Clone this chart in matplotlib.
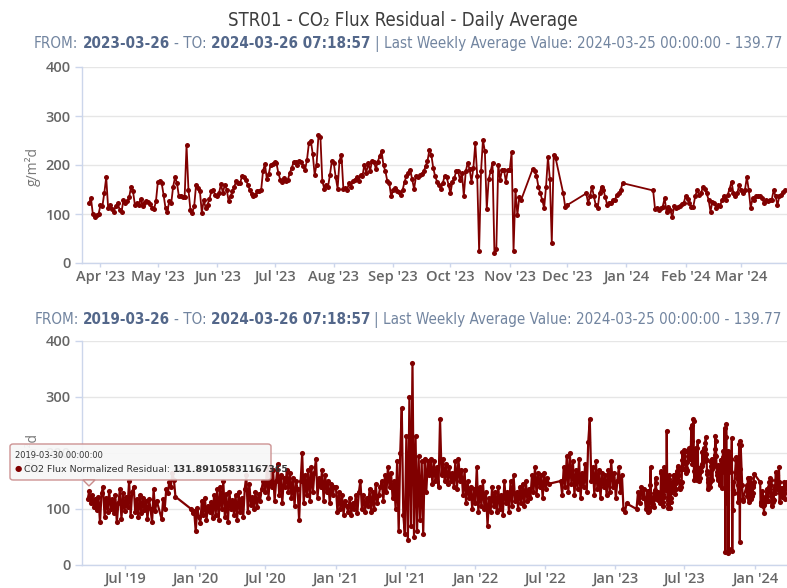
import numpy as np
import matplotlib
matplotlib.use("Agg")
import matplotlib.pyplot as plt
import matplotlib.dates as mdates
from matplotlib.patches import FancyBboxPatch, Polygon
from matplotlib.offsetbox import TextArea, HPacker, AnchoredOffsetbox

W, H = 787, 588
LINE = "#800000"
GRID = "#e6e6e6"
AXIS = "#ccd6eb"
NARROW = dict(family="DejaVu Sans", fontstretch="condensed")

plt.rcParams["font.family"] = ["Open Sans", "DejaVu Sans"]

TITLE = "STR01 - CO₂ Flux Residual - Daily Average"
TOP_FROM, TOP_TO = "2023-03-26", "2024-03-26 07:18:57"
BOT_FROM, BOT_TO = "2019-03-26", "2024-03-26 07:18:57"
LAST_WEEK = "| Last Weekly Average Value: 2024-03-25 00:00:00 - 139.77"
TIP_DATE = "2019-03-30 00:00:00"
TIP_NAME = "CO2 Flux Normalized Residual: "
TIP_VALUE = "131.89105831167365"

# ── last year, daily values (top panel; also the tail of the 5-year panel) ──
top_a_start = "2023-03-26"
top_a = [122, 133, 100, 94, 97, 100, 118, 116, 143, 175,
         112, 119, 111, 105, 116, 122, 109, 104, 129, 122,
         126, 134, 156, 146, 119, 122, 118, 131, 116, 122,
         126, 124, 120, 112, 110, 126, 165, 168, 163, 139,
         112, 105, 127, 122, 156, 175, 163, 136, 136, 134,
         134, 240, 150, 109, 102, 116, 160, 153, 146, 102,
         129, 112, 119, 131, 146, 148, 139, 136, 143, 161,
         143, 160, 150, 127, 136, 146, 156, 168, 163, 163,
         177, 175, 170, 160, 150, 140, 136, 139, 146, 146,
         148, 188, 202, 171, 182, 201, 202, 206, 204, 184,
         170, 165, 173, 167, 170, 184, 194, 206, 206, 201,
         209, 207, 197, 190, 211, 245, 250, 222, 180, 201,
         261, 258, 167, 152, 159, 156, 180, 209, 204, 175,
         152, 209, 221, 152, 153, 150, 163, 156, 167, 170,
         175, 167, 180, 177, 201, 184, 204, 188, 209, 207,
         192, 207, 218, 228, 199, 187, 167, 163, 136, 148,
         153, 146,
         144, 139, 149, 166, 177, 184, 190, 171, 151, 177,
         175, 180, 182, 187, 197, 208, 231, 221, 194, 177,
         166, 160, 151, 163, 178, 175, 160, 142, 166, 173,
         187, 187, 170, 184, 137, 187, 204, 192, 166, 194,
         244, 178, 24, 187, 251, 228, 110, 171, 187, 204,
         21, 29, 201, 170, 190, 190, 166, 190, 190, 226,
         25, 149, 98, 134, 129]
top_b_start = "2023-11-13"
top_b = [192, 187, 178, 156, 142, 129, 112, 156, 216, 171, 41, 221, 214]
top_c_start = "2023-11-29"
top_c = [142, 115, 118]
top_d_start = "2023-12-11"
top_d = [142, 123, 136, 156, 136, 118, 112, 142, 156, 149,
         134, 118, 122, 123, 129, 129, 139, 142, 148, 163]
top_e_start = "2024-01-15"
top_e = [148, 110, 112, 108, 112, 115, 132, 105, 115, 108,
         93, 116, 112, 114, 116, 121, 123, 136, 130, 123,
         115, 115, 136, 149, 139, 142, 155, 152, 142, 129,
         105, 125, 122, 112, 118, 116, 129, 136, 129, 139,
         152, 166, 142, 136, 142, 160, 148, 142, 149, 175,
         149, 112, 132, 129, 136, 137, 137, 132, 122, 129,
         127, 129, 129, 148, 137, 118, 136, 139, 144, 149]

# ── five-year history before that, read every 4 days ──
bot_a_start = "2019-03-26"
bot_a = [118, 131.9, 110, 125, 104, 118, 98, 122, 76, 128, 140, 86, 120, 95, 132, 100,
         118, 92, 125, 76, 110, 135, 82, 128, 96, 122, 104, 150, 88, 130, 140, 95,
         118, 86, 125, 92, 120, 98, 114, 82, 118, 100, 76, 135, 96, 115]
bot_b_start = "2019-10-05"
bot_b = [82, 118, 100, 135, 128, 148, 140, 165, 152, 122]
bot_c_start = "2019-12-21"
bot_c = [100, 92, 96, 60, 102, 86, 75, 115, 90, 120, 80, 106, 95, 112, 84, 125,
         90, 135, 80, 140, 100, 150, 86, 126, 76, 130, 100, 116, 90, 125, 80, 130,
         95, 120, 85, 135, 160, 95, 145, 108, 122, 100, 130, 104, 126, 114, 136, 150]
bot_d_start = "2020-07-02"
bot_2020h2 = [130, 175, 120, 165, 140, 170, 115, 150, 180, 125, 160, 110, 155, 140, 170, 130,
              165, 120, 155, 105, 150, 135, 80, 150, 200, 110, 160, 125, 170, 115, 175, 130,
              165, 190, 120, 155, 140, 170, 115, 160, 130, 150, 110, 145, 125, 140]
bot_2021h1 = [140, 95, 130, 100, 125, 90, 115, 105, 95, 120, 90, 110, 100, 125, 92, 130,
              150, 100, 125, 95, 120, 105, 135, 95, 130, 100, 145, 110, 125, 140, 150, 115,
              160, 130, 175, 140, 165, 120, 150, 100, 185, 60, 200, 280, 90]
bot_2021h2 = [55, 230, 45, 300, 70, 360, 50, 230, 60, 195, 80, 185, 55, 190, 130, 185,
              160, 190, 145, 185, 150, 175, 140, 260, 160, 190, 150, 180, 145, 175, 150, 165,
              140, 185, 135, 190, 150, 170, 125, 170, 110, 150, 120, 140, 100, 135]
bot_2022h1 = [110, 175, 95, 140, 105, 150, 100, 130, 70, 120, 95, 140, 105, 130, 95, 140,
              100, 125, 90, 150, 110, 130, 95, 150, 105, 160, 115, 130, 100, 140, 110, 145,
              105, 150, 115, 135, 120, 160, 130, 175, 125, 165, 140, 160, 120, 165, 135, 155, 145]
bot_e_start = "2022-08-12"
bot_e = [150, 125, 175, 140, 195, 130, 200, 145, 185, 125, 170, 135, 190, 120, 165, 140,
         180, 130, 220, 260, 150, 175, 125, 185, 135, 170, 120, 165, 140, 160, 125, 170,
         130, 185, 140, 165, 120, 150, 175, 130, 160, 100, 95, 110]
bot_f_start = "2023-02-26"
bot_f = [100, 130, 110, 140, 120, 135, 100]


def seg(start, vals, step=1):
    d = np.datetime64(start) + np.arange(len(vals)) * np.timedelta64(step, "D")
    return d, np.asarray(vals, dtype=float)


def join(parts):
    return np.concatenate([p[0] for p in parts]), np.concatenate([p[1] for p in parts])


top_x, top_y = join([seg(top_a_start, top_a), seg(top_b_start, top_b), seg(top_c_start, top_c),
                     seg(top_d_start, top_d), seg(top_e_start, top_e)])
bot_x, bot_y = join([seg(bot_a_start, bot_a, 4), seg(bot_b_start, bot_b, 4),
                     seg(bot_c_start, bot_c, 4),
                     seg(bot_d_start, bot_2020h2 + bot_2021h1 + bot_2021h2 + bot_2022h1, 4),
                     seg(bot_e_start, bot_e, 4), seg(bot_f_start, bot_f, 4),
                     (top_x, top_y)])


def fx(px):
    return px / W


def fy(py):
    return 1 - py / H


def fit_size(fig, text, target_px, size, **props):
    """Font size that makes `text` about target_px wide."""
    t = fig.text(0, 0, text, fontsize=size, **props)
    w = t.get_window_extent(fig.canvas.get_renderer()).width
    t.remove()
    return size * target_px / w


def style_axes(ax, xlim, locator, lw, ms, x, y):
    ax.plot(x, y, color=LINE, lw=lw, marker="o", ms=ms, mew=0, zorder=3)
    ax.set_xlim(np.datetime64(xlim[0]), np.datetime64(xlim[1]))
    ax.set_ylim(0, 400)
    ax.set_yticks([0, 100, 200, 300, 400])
    ax.grid(axis="y", color=GRID, lw=1)
    ax.set_axisbelow(True)
    for s in ("top", "right"):
        ax.spines[s].set_visible(False)
    for s in ("left", "bottom"):
        ax.spines[s].set_color(AXIS)
        ax.spines[s].set_linewidth(1)
    ax.xaxis.set_major_locator(locator)
    ax.xaxis.set_major_formatter(mdates.DateFormatter("%b '%y"))
    ax.tick_params(axis="both", colors=AXIS, labelcolor="#666666", labelsize=10.5, width=1)
    ax.tick_params(axis="y", length=5, pad=3)
    ax.tick_params(axis="x", length=3, pad=2)
    for lab in ax.get_xticklabels() + ax.get_yticklabels():
        lab.set_fontweight("semibold")


def subtitle(fig, y_px, d_from, d_to):
    full = f"FROM: {d_from} - TO: {d_to} {LAST_WEEK}"
    size = fit_size(fig, full, 722, 11, **NARROW)
    normal = dict(color="#7285a0", fontsize=size, **NARROW)
    bold = dict(normal, color="#53678a", fontweight="bold")
    parts = [("FROM:", normal), (d_from, bold), ("- TO:", normal), (d_to, bold), (LAST_WEEK, normal)]
    pack = HPacker(children=[TextArea(t, textprops=p) for t, p in parts],
                   align="baseline", pad=0, sep=3)
    box = AnchoredOffsetbox(loc="center", child=pack, frameon=False, pad=0, borderpad=0,
                            bbox_to_anchor=(fx(408), fy(y_px)), bbox_transform=fig.transFigure)
    fig.add_artist(box)


fig = plt.figure(figsize=(W / 100, H / 100), dpi=100)

ax1 = fig.add_axes([fx(82), fy(263), 1 - fx(82), (263 - 67) / H])
style_axes(ax1, ("2023-03-22T08", "2024-03-25T00"), mdates.MonthLocator(),
           1.3, 3.6, top_x, top_y)
ax2 = fig.add_axes([fx(82), fy(565), 1 - fx(82), (565 - 341) / H])
style_axes(ax2, ("2019-03-11", "2024-03-25"), mdates.MonthLocator(bymonth=[1, 7]),
           1.6, 3.7, bot_x, bot_y)

tsize = fit_size(fig, TITLE, 350, 13.5, **NARROW)
fig.text(fx(403), fy(20), TITLE, ha="center", va="center", fontsize=tsize,
         color="#3d3d3d", **NARROW)
subtitle(fig, 44, TOP_FROM, TOP_TO)
subtitle(fig, 320, BOT_FROM, BOT_TO)

for yc in (166, 453):
    fig.text(fx(33), fy(yc), "g/m²d", rotation=90, ha="center", va="center",
             fontsize=10, color="#777777")

# tooltip
tip = FancyBboxPatch((fx(10), fy(480)), fx(261), (480 - 444) / H,
                     boxstyle="round,pad=0,rounding_size=0.004", transform=fig.transFigure,
                     facecolor="#f7f7f7", alpha=0.92, edgecolor="#c98a8a", lw=1, zorder=10)
fig.add_artist(tip)
arrow = Polygon([(fx(83), fy(480)), (fx(95), fy(480)), (fx(89), fy(486))], closed=True,
                transform=fig.transFigure, facecolor="#f7f7f7", edgecolor="#c98a8a",
                lw=1, zorder=10)
fig.add_artist(arrow)
fig.text(fx(15), fy(455), TIP_DATE, fontsize=6, color="#333333", va="center",
         family="DejaVu Sans", zorder=11)
fig.text(fx(15), fy(469), "●", fontsize=6, color=LINE, va="center",
         family="DejaVu Sans", zorder=11)
tip_pack = HPacker(children=[TextArea(TIP_NAME, textprops=dict(fontsize=6.8, color="#333333",
                                                                 family="DejaVu Sans")),
                             TextArea(TIP_VALUE, textprops=dict(fontsize=6.8, color="#333333",
                                                                  family="DejaVu Sans",
                                                                  fontweight="bold"))],
                   align="baseline", pad=0, sep=0)
tip_box = AnchoredOffsetbox(loc="center left", child=tip_pack, frameon=False, pad=0,
                            borderpad=0, bbox_to_anchor=(fx(24), fy(469)),
                            bbox_transform=fig.transFigure)
tip_box.set_zorder(11)
fig.add_artist(tip_box)

fig.savefig("out.png", dpi=100)
